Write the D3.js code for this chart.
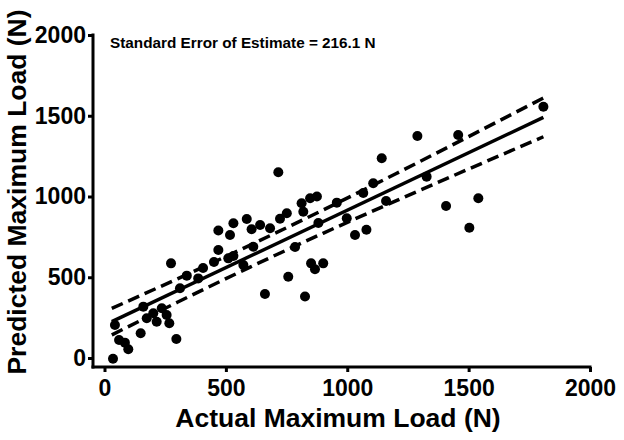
<!DOCTYPE html>
<html>
<head>
<meta charset="utf-8">
<script src="https://cdn.jsdelivr.net/npm/d3@7"></script>
<style>
  html, body { margin: 0; padding: 0; background: #fff; }
  svg { display: block; }
  text { font-family: "Liberation Sans", Arial, sans-serif; font-weight: bold; fill: #000; }
</style>
</head>
<body>
<svg id="chart" width="624" height="440"></svg>
<script>
// ---- data ----
const actual = [35, 43, 60, 84, 98, 149, 160, 174, 201, 215, 236, 256, 267, 296, 274, 311, 339, 386,
  406, 451, 469, 517, 531, 586, 606, 641, 682, 469, 510, 531, 613, 572, 716, 723, 751, 812, 819, 847,
  875, 785, 757, 661, 826, 851, 867, 901, 881, 957, 998, 1032, 1079, 1066, 1107, 1142, 1160, 1289,
  1457, 1808, 1327, 1407, 1540, 1503];
const predicted = [-5, 204, 111, 95, 54, 153, 318, 246, 277, 225, 308, 266, 215, 118, 586, 432, 510, 493,
  557, 594, 790, 762, 834, 861, 797, 824, 803, 669, 617, 632, 689, 576, 1150, 862, 896, 958, 906, 989,
  1000, 687, 503, 396, 381, 586, 549, 586, 836, 962, 865, 762, 794, 1022, 1082, 1237, 972, 1375,
  1381, 1556, 1123, 941, 989, 807];
const fitX = [30, 1808];
const fitY = [225, 1490];
const bandX = [30, 300, 600, 900, 1200, 1500, 1808];
const bandUpper = [307, 490, 699, 916, 1141, 1371, 1610];
const bandLower = [143, 345, 563, 772, 973, 1170, 1370];
const tickValues = [0, 500, 1000, 1500, 2000];
const xTitle = "Actual Maximum Load (N)";
const yTitle = "Predicted Maximum Load (N)";
const note = "Standard Error of Estimate = 216.1 N";

// ---- drawing ----
const svg = d3.select("#chart");
const x = d3.scaleLinear().domain([0, 2000]).range([104.5, 590]);
const y = d3.scaleLinear().domain([0, 2000]).range([358, 35]);
const axisX = 93, axisY = 367;

// y axis
const gy = svg.append("g").attr("transform", `translate(${axisX},0)`)
  .call(d3.axisLeft(y).tickValues(tickValues).tickSize(5).tickPadding(2).tickFormat(d3.format("d")));
gy.select(".domain").remove();
gy.selectAll(".tick line").attr("stroke", "#000").attr("stroke-width", 3);
gy.selectAll(".tick text").style("font-size", "23px").style("font-family", "Liberation Sans, Arial, sans-serif").style("font-weight", "bold").attr("fill", "#000");
svg.append("line").attr("x1", axisX).attr("x2", axisX).attr("y1", y(2000) - 1.5).attr("y2", axisY + 1.5)
  .attr("stroke", "#000").attr("stroke-width", 3);

// x axis
const gx = svg.append("g").attr("transform", `translate(0,${axisY})`)
  .call(d3.axisBottom(x).tickValues(tickValues).tickSize(5).tickPadding(8).tickFormat(d3.format("d")));
gx.select(".domain").remove();
gx.selectAll(".tick line").attr("stroke", "#000").attr("stroke-width", 3);
gx.selectAll(".tick text").style("font-size", "23px").style("font-family", "Liberation Sans, Arial, sans-serif").style("font-weight", "bold").attr("fill", "#000");
svg.append("line").attr("x1", axisX - 1.5).attr("x2", x(2000) + 1.5).attr("y1", axisY).attr("y2", axisY)
  .attr("stroke", "#000").attr("stroke-width", 3);

// titles
svg.append("text").attr("x", 338).attr("y", 427).attr("text-anchor", "middle")
  .style("font-size", "26.5px").text(xTitle);
svg.append("text").attr("transform", "translate(26,192) rotate(-90)").attr("text-anchor", "middle")
  .style("font-size", "26.5px").text(yTitle);
svg.append("text").attr("x", 110).attr("y", 48).style("font-size", "15.3px").text(note);

// points
svg.append("g").selectAll("circle").data(actual.map((a, i) => [a, predicted[i]])).join("circle")
  .attr("cx", d => x(d[0])).attr("cy", d => y(d[1])).attr("r", 5).attr("fill", "#000");

// regression line
const line = d3.line().x(d => x(d[0])).y(d => y(d[1]));
svg.append("path").attr("d", line(fitX.map((v, i) => [v, fitY[i]])))
  .attr("fill", "none").attr("stroke", "#000").attr("stroke-width", 3.5);

// confidence band
const curve = d3.line().x(d => x(d[0])).y(d => y(d[1])).curve(d3.curveMonotoneX);
[bandUpper, bandLower].forEach(arr => {
  svg.append("path").attr("d", curve(bandX.map((v, i) => [v, arr[i]])))
    .attr("fill", "none").attr("stroke", "#000").attr("stroke-width", 3.5)
    .attr("stroke-dasharray", "12,6");
});
</script>
</body>
</html>
